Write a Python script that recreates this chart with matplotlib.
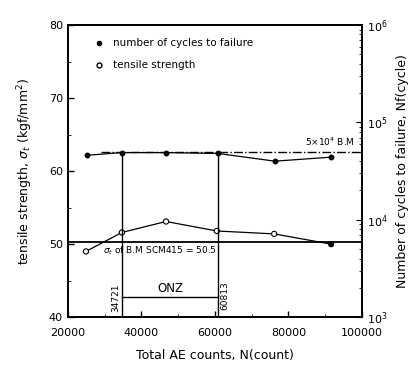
import matplotlib
matplotlib.use('Agg')
import matplotlib.pyplot as plt
import numpy as np

# number of cycles to failure (right axis, log)
cyc_x = [25200, 34721, 46700, 60813, 76300, 91600]
cyc_y = [4.6e4, 4.9e4, 4.9e4, 4.8e4, 4.0e4, 4.4e4]

# tensile strength (left axis)
ts_x = [24900, 34700, 46700, 60500, 76100, 91600]
ts_y = [49.0, 51.6, 53.1, 51.8, 51.4, 50.0]

bm_strength = 50.3
bm_cycles = 5e4
onz = [34721, 60813]

fig = plt.figure(figsize=(4.19, 3.74), dpi=100)
ax = fig.add_axes([0.162, 0.152, 0.702, 0.781])
ax2 = ax.twinx()

ax.set_xlim(20000, 100000)
ax.set_ylim(40, 80)
ax2.set_yscale('log')
ax2.set_ylim(1e3, 1e6)

# tensile strength
ax.plot(ts_x, ts_y, color='black', lw=0.9)
fc = ['white'] * (len(ts_x) - 1) + ['black']
ax.scatter(ts_x, ts_y, s=14, facecolors=fc, edgecolors='black', lw=0.8, zorder=5)
ax.axhline(bm_strength, color='black', lw=1.3)
ax.text(29500, bm_strength - 0.4, r'$\sigma_t$ of B.M SCM415 = 50.5', fontsize=6.5,
        va='top', ha='left')

# cycles
ax2.plot(cyc_x, cyc_y, color='black', lw=0.9, marker='o', ms=3.2)
ax2.plot([29000, 100000], [bm_cycles, bm_cycles], color='black', lw=1.0, ls='-.')
ax2.text(98000, bm_cycles * 1.08, r'5$\times$10$^4$ B.M', fontsize=6.5, ha='right', va='bottom')

# ONZ region
for xv in onz:
    ax2.plot([xv, xv], [1e3, bm_cycles * 0.98], color='black', lw=1.0)
ax.plot(onz, [42.7, 42.7], color='black', lw=1.0)
ax.text(sum(onz) / 2, 43.0, 'ONZ', fontsize=8.5, ha='center', va='bottom')
ax.text(onz[0] - 600, 42.7, '34721', rotation=90, fontsize=6.5, ha='right', va='center')
ax.text(onz[1] + 600, 42.9, '60813', rotation=90, fontsize=6.5, ha='left', va='center')

# legend
ax.plot([28500], [77.5], 'o', color='black', ms=3)
ax.text(32300, 77.5, 'number of cycles to failure', fontsize=7.5, va='center')
ax.plot([28500], [74.5], 'o', mfc='white', mec='black', ms=3.5)
ax.text(32300, 74.5, 'tensile strength', fontsize=7.5, va='center')

ax.set_xticks([20000, 40000, 60000, 80000, 100000])
ax.set_xticks([30000, 50000, 70000, 90000], minor=True)
ax.set_yticks([40, 50, 60, 70, 80])
ax.set_yticks([45, 55, 65, 75], minor=True)
ax.tick_params(direction='in', labelsize=8, length=4, width=1)
ax.tick_params(axis='x', pad=8)
ax.tick_params(which='minor', direction='in', length=2)
ax2.tick_params(which='both', direction='in', labelsize=8)
ax2.tick_params(which='major', length=4)
ax2.tick_params(which='minor', length=2)

ax.set_xlabel('Total AE counts, N(count)', fontsize=9, labelpad=8)
ax.set_ylabel(r'tensile strength, $\sigma_t$ (kgf/mm$^2$)', fontsize=9, labelpad=10)
ax2.set_ylabel('Number of cycles to failure, Nf(cycle)', fontsize=9, labelpad=6)

for sp in ax.spines.values():
    sp.set_linewidth(1.3)
for sp in ax2.spines.values():
    sp.set_linewidth(1.3)

fig.savefig('out.png', dpi=100)
